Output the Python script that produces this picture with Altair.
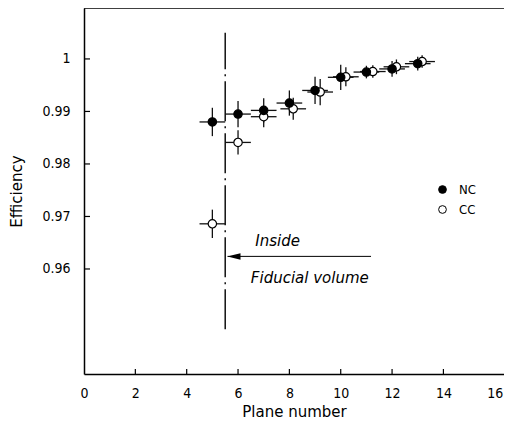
import altair as alt
import pandas as pd

# ---- data ----
planes_nc = [5, 6, 7, 8, 9, 10, 11, 12, 13]
eff_nc = [0.9880, 0.9895, 0.9902, 0.9916, 0.9940, 0.9965, 0.9975, 0.9981, 0.9991]
yerr_nc = [0.0027, 0.0025, 0.0023, 0.0024, 0.0026, 0.0024, 0.0012, 0.0015, 0.0013]
xerr_nc = [0.5, 0.5, 0.5, 0.5, 0.5, 0.5, 0.5, 0.5, 0.5]

planes_cc = [5, 6, 7, 8.15, 9.2, 10.2, 11.25, 12.17, 13.17]
eff_cc = [0.9686, 0.9841, 0.9890, 0.9905, 0.9937, 0.9966, 0.9976, 0.9985, 0.9995]
yerr_cc = [0.0027, 0.0023, 0.0020, 0.0021, 0.0025, 0.0018, 0.0012, 0.0014, 0.0012]
xerr_cc = [0.5, 0.5, 0.5, 0.5, 0.5, 0.5, 0.5, 0.5, 0.5]

x_ticks = [0, 2, 4, 6, 8, 10, 12, 14, 16]
x_tick_marks = [2, 4, 6, 8, 10, 12, 14]
y_ticks = [0.96, 0.97, 0.98, 0.99, 1.0]

fiducial_x = 5.5
fiducial_y = [0.9485, 1.005]
arrow_x = [5.59, 11.18]
arrow_y = 0.9624
notes_text = ["Inside", "Fiducial  volume"]
notes_x = [6.67, 6.5]
notes_y = [0.9654, 0.9583]

X_DOMAIN = [0, 16.36]
Y_DOMAIN = [0.94, 1.0097]

rows = []
for lab, px, py, ey, ex in [("CC", planes_cc, eff_cc, yerr_cc, xerr_cc),
                            ("NC", planes_nc, eff_nc, yerr_nc, xerr_nc)]:
    for a, b, c, d in zip(px, py, ey, ex):
        rows.append(dict(type=lab, plane=a, eff=b, lo=b - c, hi=b + c,
                         xlo=a - d, xhi=a + d))
pts = pd.DataFrame(rows)

xs = alt.Scale(domain=X_DOMAIN, nice=False, zero=False)
ys = alt.Scale(domain=Y_DOMAIN, nice=False, zero=False)

LABEL_FONT = "DejaVu Sans Condensed"
TITLE_FONT = "DejaVu Sans"

xaxis = alt.Axis(values=x_ticks, tickSize=0, grid=False, domainColor="black",
                 domainWidth=1.5, labelFont=LABEL_FONT, labelFontSize=14,
                 labelColor="black", labelPadding=12, labelFlush=False,
                 title="Plane number", titleFont=TITLE_FONT, titleFontSize=15,
                 titleFontWeight="normal", titleColor="black", titlePadding=4)
yaxis = alt.Axis(values=y_ticks, format=".2~f", tickSize=0, grid=False,
                 domainColor="black", domainWidth=1.5, labelFont=LABEL_FONT,
                 labelFontSize=14, labelColor="black", labelPadding=14,
                 labelFlush=False, title="Efficiency", titleFont=TITLE_FONT,
                 titleFontSize=15, titleFontWeight="normal", titleColor="black",
                 titlePadding=17)


def X(field):
    return alt.X(field, scale=xs, axis=xaxis)


def Y(field):
    return alt.Y(field, scale=ys, axis=yaxis)


base = alt.Chart(pts)

xerr = base.mark_rule(color="#111", strokeWidth=1.3).encode(
    x=X("xlo:Q"), x2="xhi:Q", y=Y("eff:Q"))
yerr = base.mark_rule(color="#111", strokeWidth=1.3).encode(
    x=X("plane:Q"), y=Y("lo:Q"), y2="hi:Q")
points = base.mark_point(filled=True, shape="circle", size=70, stroke="black",
                         strokeWidth=1.2, opacity=1).encode(
    x=X("plane:Q"), y=Y("eff:Q"),
    fill=alt.Fill("type:N",
                  scale=alt.Scale(domain=["NC", "CC"], range=["black", "white"]),
                  legend=alt.Legend(orient="none", legendX=352, legendY=175,
                                    title=None, labelFont=LABEL_FONT,
                                    labelFontSize=13, labelColor="black",
                                    symbolSize=60, symbolType="circle",
                                    symbolStrokeColor="black",
                                    symbolStrokeWidth=1, rowPadding=6,
                                    labelOffset=10, padding=0)))

# frame line on top
top_df = pd.DataFrame({"x0": [X_DOMAIN[0]], "x1": [X_DOMAIN[1]], "y": [Y_DOMAIN[1]]})
top_line = alt.Chart(top_df).mark_rule(color="black", strokeWidth=1.5).encode(
    x=X("x0:Q"), x2="x1:Q", y=Y("y:Q"))

# inward ticks
xt_df = pd.DataFrame({"t": x_tick_marks, "y": [Y_DOMAIN[0]] * len(x_tick_marks)})
xt = alt.Chart(xt_df).mark_rule(color="black", strokeWidth=1.2, y2Offset=-5).encode(
    x=X("t:Q"), y=Y("y:Q"), y2="y:Q")
yt_df = pd.DataFrame({"t": y_ticks, "x": [X_DOMAIN[0]] * len(y_ticks)})
yt = alt.Chart(yt_df).mark_rule(color="black", strokeWidth=1.2, x2Offset=6).encode(
    y=Y("t:Q"), x=X("x:Q"), x2="x:Q")

# fiducial dash-dot line
fid_df = pd.DataFrame({"x": [fiducial_x], "y0": [fiducial_y[0]], "y1": [fiducial_y[1]]})
fid = alt.Chart(fid_df).mark_rule(color="black", strokeWidth=1.4,
                                  strokeDash=[40, 5, 2, 5]).encode(
    x=X("x:Q"), y=Y("y0:Q"), y2="y1:Q")

# arrow
arr_df = pd.DataFrame({"x0": [arrow_x[0]], "x1": [arrow_x[1]], "y": [arrow_y]})
arr_line = alt.Chart(arr_df).mark_rule(color="black", strokeWidth=1).encode(
    x=X("x0:Q"), x2="x1:Q", y=Y("y:Q"))
arr_head = alt.Chart(arr_df).mark_point(shape="M-1,0L1,-0.5L1,0.5Z", filled=True,
                                        color="black", size=169, opacity=1,
                                        xOffset=6.5).encode(
    x=X("x0:Q"), y=Y("y:Q"))

notes_df = pd.DataFrame({"text": notes_text, "x": notes_x, "y": notes_y})
notes = alt.Chart(notes_df).mark_text(align="left", baseline="middle",
                                      font=TITLE_FONT, fontSize=15,
                                      fontStyle="italic", color="black").encode(
    x=X("x:Q"), y=Y("y:Q"), text="text:N")

chart = alt.layer(top_line, xt, yt, fid, arr_line, arr_head, notes,
                  xerr, yerr, points).properties(
    width=420, height=366,
    padding={"left": 76, "top": 0, "right": 0, "bottom": 47},
    autosize="none",
).configure_view(stroke=None)

chart.save("out.html", embed_options={"renderer": "svg", "actions": False})
